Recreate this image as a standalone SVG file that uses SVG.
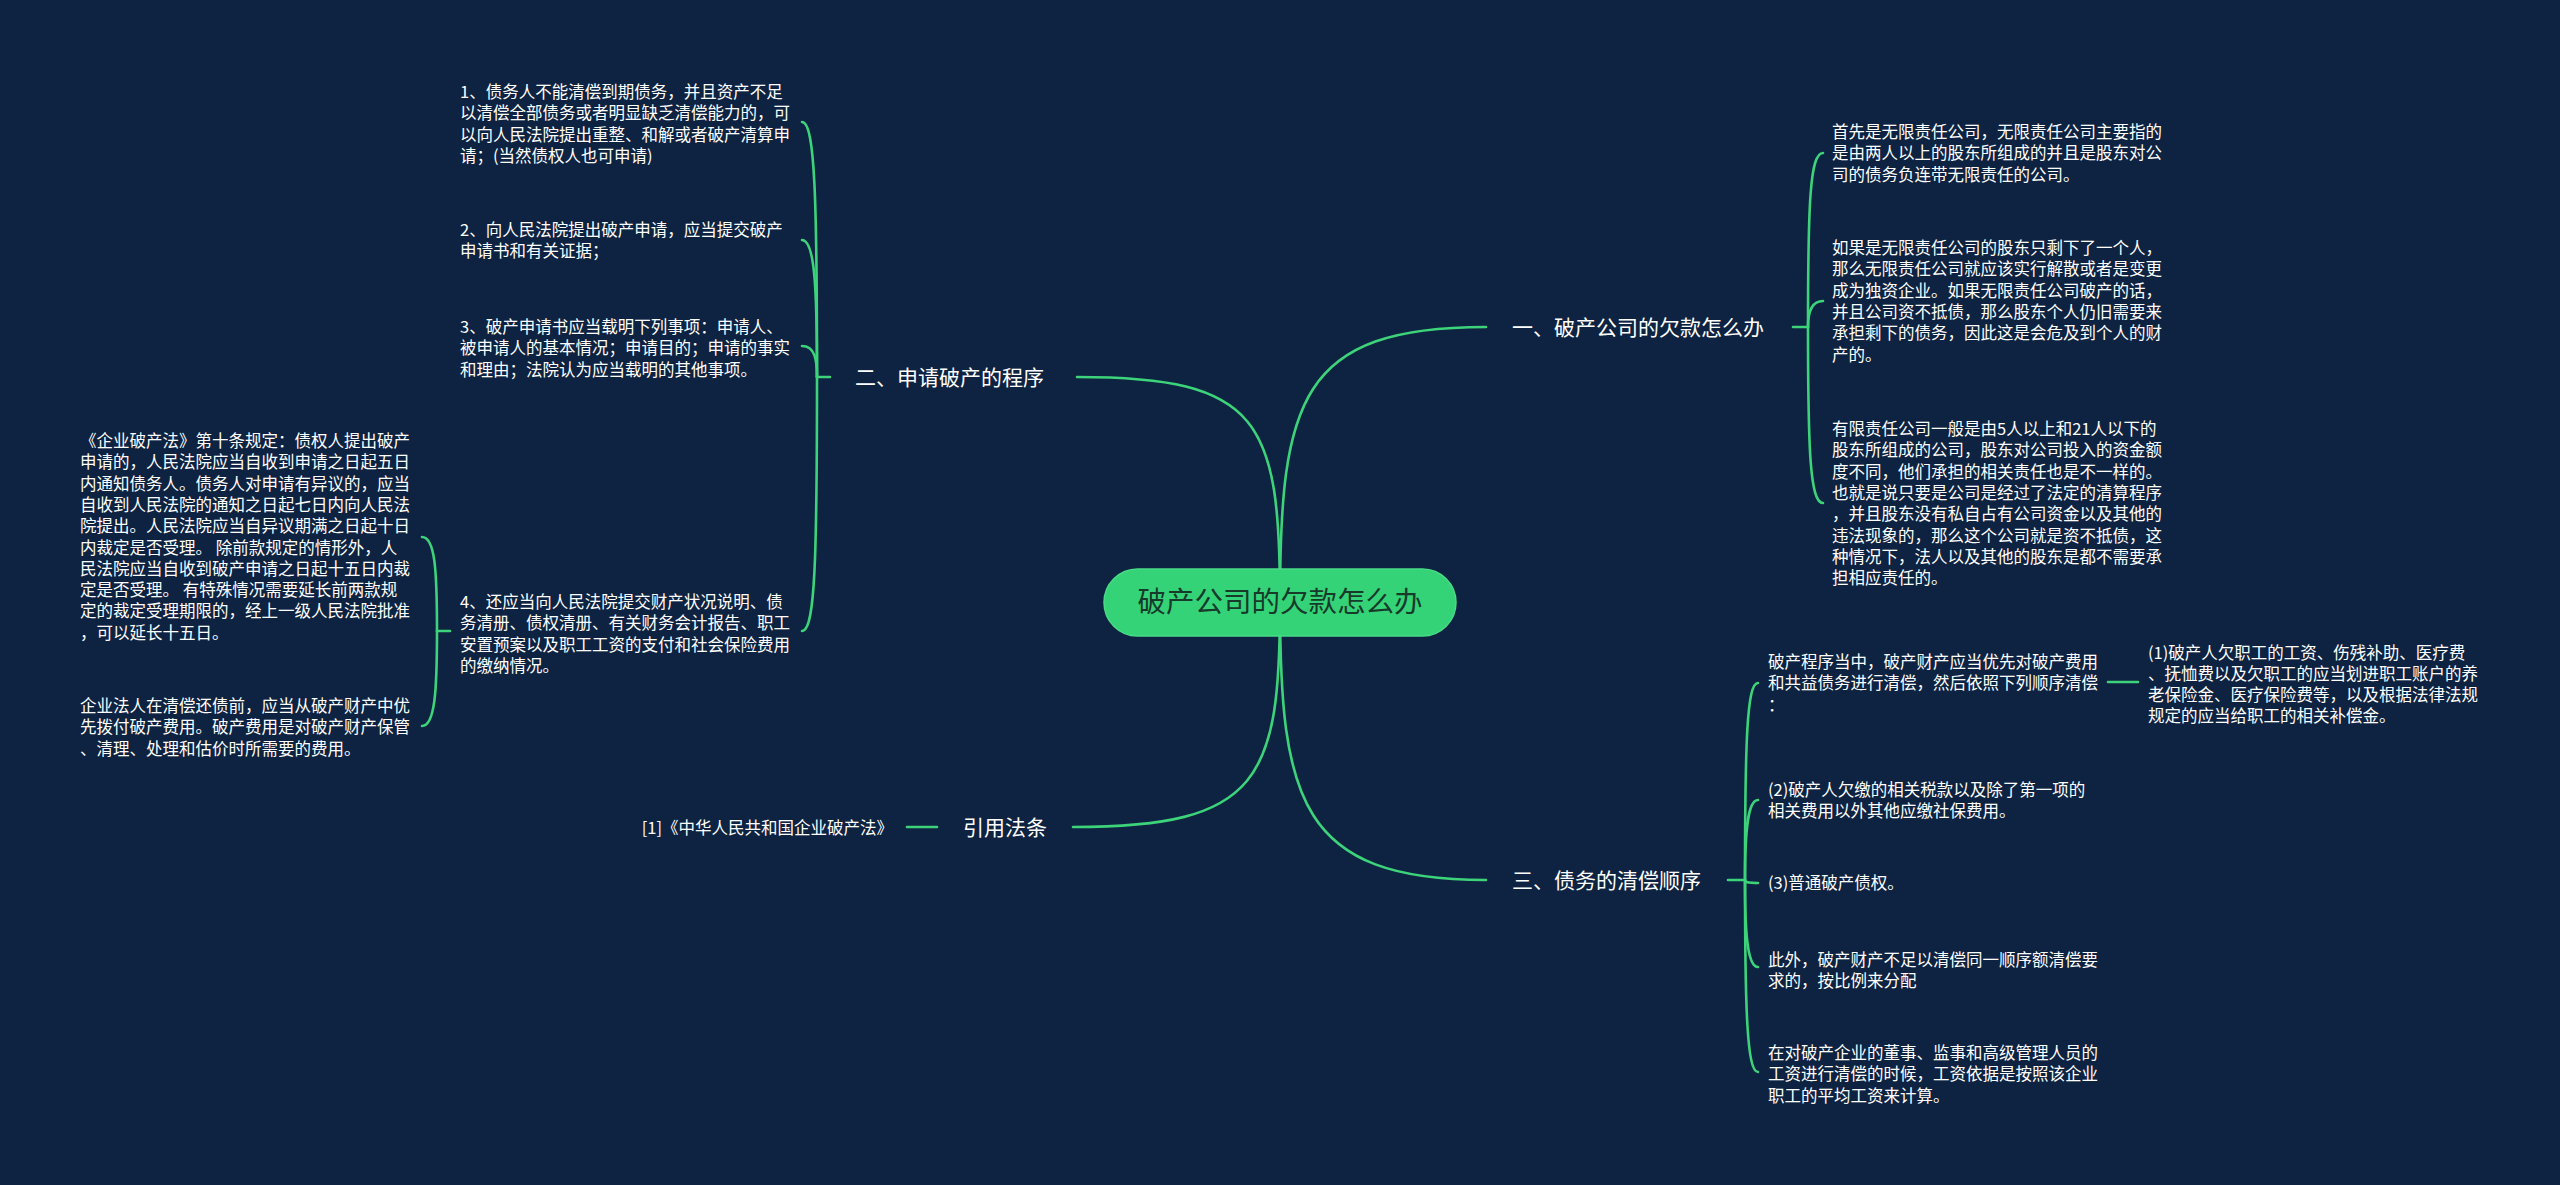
<svg xmlns="http://www.w3.org/2000/svg" width="2560" height="1185" viewBox="0 0 2560 1185">
<style>
.bg{fill:#0e2341}
.ln{fill:none;stroke:#3dd37a;stroke-width:2.6;stroke-linecap:round}
.leaf{font-family:"Noto Sans CJK SC","Noto Sans",sans-serif;font-size:16.5px;fill:#ffffff}
.br{font-family:"Noto Sans CJK SC","Noto Sans",sans-serif;font-size:21px;fill:#ffffff}
.root{font-family:"Noto Sans CJK SC","Noto Sans",sans-serif;font-size:28.5px;fill:#173a2a}
</style>
<rect class="bg" x="0" y="0" width="2560" height="1185"/>
<g id="connectors">
  <!-- root to branches -->
  <path class="ln" d="M1280 602 C1280 400 1300 327 1486 327"/>
  <path class="ln" d="M1280 602 C1280 420 1260 377 1077 377"/>
  <path class="ln" d="M1280 602 C1280 780 1260 827 1073 827"/>
  <path class="ln" d="M1280 602 C1280 800 1300 880 1486 880"/>
  <!-- branch 一 bracket -->
  <path class="ln" d="M1793 327 L1808 327"/>
  <path class="ln" d="M1808 327 C1808 203 1810 153 1823 153"/>
  <path class="ln" d="M1808 327 C1808 315 1810 301 1823 301"/>
  <path class="ln" d="M1808 327 C1808 450 1810 503 1823 503"/>
  <!-- branch 二 bracket -->
  <path class="ln" d="M830 377 L817 377"/>
  <path class="ln" d="M817 377 C817 200 815 122 802 122"/>
  <path class="ln" d="M817 377 C817 290 815 240 802 240"/>
  <path class="ln" d="M817 377 C817 360 815 346 802 346"/>
  <path class="ln" d="M817 377 C817 560 815 631 802 631"/>
  <!-- child 4 bracket -->
  <path class="ln" d="M450 631 L437 631"/>
  <path class="ln" d="M437 631 C437 570 435 537 422 537"/>
  <path class="ln" d="M437 631 C437 690 435 726 422 726"/>
  <!-- 引用法条 -->
  <path class="ln" d="M937 827 L907 827"/>
  <!-- branch 三 bracket -->
  <path class="ln" d="M1728 880 L1745 880"/>
  <path class="ln" d="M1745 880 C1745 740 1747 683 1758 683"/>
  <path class="ln" d="M1745 880 C1745 835 1747 800 1758 800"/>
  <path class="ln" d="M1745 880 C1745 882 1747 883 1758 883"/>
  <path class="ln" d="M1745 880 C1745 930 1747 967 1758 967"/>
  <path class="ln" d="M1745 880 C1745 1010 1747 1072 1758 1072"/>
  <!-- 三 child1 to grandchild -->
  <path class="ln" d="M2108 682 L2138 682"/>
</g>
<g id="root">
  <rect x="1104" y="569" width="352" height="67" rx="33.5" fill="#35d377" stroke="#48dc86" stroke-width="1.5"/>
  <text class="root" x="1280" y="612" text-anchor="middle">破产公司的欠款怎么办</text>
</g>
<g id="b1">
  <text class="br" x="1512" y="335">一、破产公司的欠款怎么办</text>
</g>
<g id="b1c1">
  <text class="leaf" x="1832" y="138"><tspan x="1832">首先是无限责任公司，无限责任公司主要指的</tspan><tspan x="1832" dy="21.3">是由两人以上的股东所组成的并且是股东对公</tspan><tspan x="1832" dy="21.3">司的债务负连带无限责任的公司。</tspan></text>
</g>
<g id="b1c2">
  <text class="leaf" x="1832" y="254"><tspan x="1832">如果是无限责任公司的股东只剩下了一个人，</tspan><tspan x="1832" dy="21.3">那么无限责任公司就应该实行解散或者是变更</tspan><tspan x="1832" dy="21.3">成为独资企业。如果无限责任公司破产的话，</tspan><tspan x="1832" dy="21.3">并且公司资不抵债，那么股东个人仍旧需要来</tspan><tspan x="1832" dy="21.3">承担剩下的债务，因此这是会危及到个人的财</tspan><tspan x="1832" dy="21.3">产的。</tspan></text>
</g>
<g id="b1c3">
  <text class="leaf" x="1832" y="435"><tspan x="1832">有限责任公司一般是由5人以上和21人以下的</tspan><tspan x="1832" dy="21.3">股东所组成的公司，股东对公司投入的资金额</tspan><tspan x="1832" dy="21.3">度不同，他们承担的相关责任也是不一样的。</tspan><tspan x="1832" dy="21.3">也就是说只要是公司是经过了法定的清算程序</tspan><tspan x="1832" dy="21.3">，并且股东没有私自占有公司资金以及其他的</tspan><tspan x="1832" dy="21.3">违法现象的，那么这个公司就是资不抵债，这</tspan><tspan x="1832" dy="21.3">种情况下，法人以及其他的股东是都不需要承</tspan><tspan x="1832" dy="21.3">担相应责任的。</tspan></text>
</g>
<g id="b2">
  <text class="br" x="855" y="385">二、申请破产的程序</text>
</g>
<g id="b2c1">
  <text class="leaf" x="460" y="98"><tspan x="460">1、债务人不能清偿到期债务，并且资产不足</tspan><tspan x="460" dy="21.3">以清偿全部债务或者明显缺乏清偿能力的，可</tspan><tspan x="460" dy="21.3">以向人民法院提出重整、和解或者破产清算申</tspan><tspan x="460" dy="21.3">请；(当然债权人也可申请)</tspan></text>
</g>
<g id="b2c2">
  <text class="leaf" x="460" y="236"><tspan x="460">2、向人民法院提出破产申请，应当提交破产</tspan><tspan x="460" dy="21.3">申请书和有关证据；</tspan></text>
</g>
<g id="b2c3">
  <text class="leaf" x="460" y="333"><tspan x="460">3、破产申请书应当载明下列事项：申请人、</tspan><tspan x="460" dy="21.3">被申请人的基本情况；申请目的；申请的事实</tspan><tspan x="460" dy="21.3">和理由；法院认为应当载明的其他事项。</tspan></text>
</g>
<g id="b2c4">
  <text class="leaf" x="460" y="608"><tspan x="460">4、还应当向人民法院提交财产状况说明、债</tspan><tspan x="460" dy="21.3">务清册、债权清册、有关财务会计报告、职工</tspan><tspan x="460" dy="21.3">安置预案以及职工工资的支付和社会保险费用</tspan><tspan x="460" dy="21.3">的缴纳情况。</tspan></text>
</g>
<g id="b2c4g1">
  <text class="leaf" x="80" y="447"><tspan x="80">《企业破产法》第十条规定：债权人提出破产</tspan><tspan x="80" dy="21.3">申请的，人民法院应当自收到申请之日起五日</tspan><tspan x="80" dy="21.3">内通知债务人。债务人对申请有异议的，应当</tspan><tspan x="80" dy="21.3">自收到人民法院的通知之日起七日内向人民法</tspan><tspan x="80" dy="21.3">院提出。人民法院应当自异议期满之日起十日</tspan><tspan x="80" dy="21.3">内裁定是否受理。 除前款规定的情形外，人</tspan><tspan x="80" dy="21.3">民法院应当自收到破产申请之日起十五日内裁</tspan><tspan x="80" dy="21.3">定是否受理。 有特殊情况需要延长前两款规</tspan><tspan x="80" dy="21.3">定的裁定受理期限的，经上一级人民法院批准</tspan><tspan x="80" dy="21.3">，可以延长十五日。</tspan></text>
</g>
<g id="b2c4g2">
  <text class="leaf" x="80" y="712"><tspan x="80">企业法人在清偿还债前，应当从破产财产中优</tspan><tspan x="80" dy="21.3">先拨付破产费用。破产费用是对破产财产保管</tspan><tspan x="80" dy="21.3">、清理、处理和估价时所需要的费用。</tspan></text>
</g>
<g id="b4">
  <text class="br" x="963" y="835">引用法条</text>
</g>
<g id="b4c1">
  <text class="leaf" x="893" y="834" text-anchor="end">[1]《中华人民共和国企业破产法》</text>
</g>
<g id="b3">
  <text class="br" x="1512" y="888">三、债务的清偿顺序</text>
</g>
<g id="b3c1">
  <text class="leaf" x="1768" y="668"><tspan x="1768">破产程序当中，破产财产应当优先对破产费用</tspan><tspan x="1768" dy="21.3">和共益债务进行清偿，然后依照下列顺序清偿</tspan><tspan x="1768" dy="21.3">：</tspan></text>
</g>
<g id="b3c1g1">
  <text class="leaf" x="2148" y="659"><tspan x="2148">(1)破产人欠职工的工资、伤残补助、医疗费</tspan><tspan x="2148" dy="21">、抚恤费以及欠职工的应当划进职工账户的养</tspan><tspan x="2148" dy="21">老保险金、医疗保险费等，以及根据法律法规</tspan><tspan x="2148" dy="21">规定的应当给职工的相关补偿金。</tspan></text>
</g>
<g id="b3c2">
  <text class="leaf" x="1768" y="796"><tspan x="1768">(2)破产人欠缴的相关税款以及除了第一项的</tspan><tspan x="1768" dy="21.3">相关费用以外其他应缴社保费用。</tspan></text>
</g>
<g id="b3c3">
  <text class="leaf" x="1768" y="889">(3)普通破产债权。</text>
</g>
<g id="b3c4">
  <text class="leaf" x="1768" y="966"><tspan x="1768">此外，破产财产不足以清偿同一顺序额清偿要</tspan><tspan x="1768" dy="21.3">求的，按比例来分配</tspan></text>
</g>
<g id="b3c5">
  <text class="leaf" x="1768" y="1059"><tspan x="1768">在对破产企业的董事、监事和高级管理人员的</tspan><tspan x="1768" dy="21.3">工资进行清偿的时候，工资依据是按照该企业</tspan><tspan x="1768" dy="21.3">职工的平均工资来计算。</tspan></text>
</g>
</svg>
